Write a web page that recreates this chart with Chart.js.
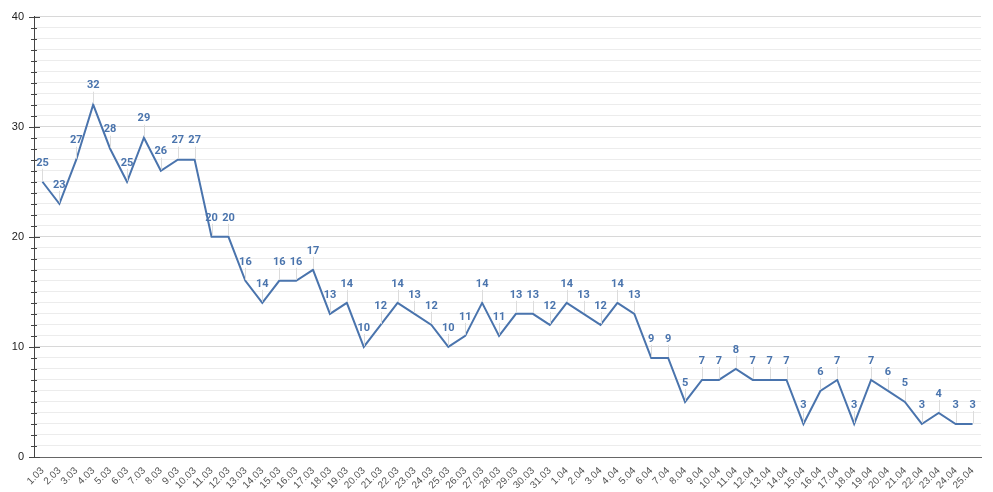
<!DOCTYPE html>
<html>
<head>
<meta charset="utf-8">
<script src="https://cdn.jsdelivr.net/npm/chart.js@4/dist/chart.umd.min.js"></script>
<style>
  html, body { margin: 0; padding: 0; background: #fff; }
  #wrap { position: relative; width: 993px; height: 492px; }
</style>
</head>
<body>
<div id="wrap"><canvas id="chart"></canvas></div>
<script>
const days = [
  '1.03','2.03','3.03','4.03','5.03','6.03','7.03','8.03','9.03','10.03',
  '11.03','12.03','13.03','14.03','15.03','16.03','17.03','18.03','19.03','20.03',
  '21.03','22.03','23.03','24.03','25.03','26.03','27.03','28.03','29.03','30.03',
  '31.03','1.04','2.04','3.04','4.04','5.04','6.04','7.04','8.04','9.04',
  '10.04','11.04','12.04','13.04','14.04','15.04','16.04','17.04','18.04','19.04',
  '20.04','21.04','22.04','23.04','24.04','25.04'
];
const counts = [
  25, 23, 27, 32, 28, 25, 29, 26, 27, 27,
  20, 20, 16, 14, 16, 16, 17, 13, 14, 10,
  12, 14, 13, 12, 10, 11, 14, 11, 13, 13,
  12, 14, 13, 12, 14, 13, 9, 9, 5, 7,
  7, 8, 7, 7, 7, 3, 6, 7, 3, 7,
  6, 5, 3, 4, 3, 3
];

const lineColor = '#4a74ad';

// leader lines + value labels above each point
const valueLabels = {
  id: 'valueLabels',
  afterDatasetsDraw(chart) {
    const ctx = chart.ctx;
    const meta = chart.getDatasetMeta(0);
    ctx.save();
    meta.data.forEach((pt, i) => {
      ctx.strokeStyle = '#dcdcdc';
      ctx.lineWidth = 1;
      ctx.beginPath();
      ctx.moveTo(Math.round(pt.x) + 0.5, pt.y - 1);
      ctx.lineTo(Math.round(pt.x) + 0.5, pt.y - 13);
      ctx.stroke();
      ctx.fillStyle = lineColor;
      ctx.font = 'bold 11px Roboto, Arial, sans-serif';
      ctx.textAlign = 'center';
      ctx.textBaseline = 'middle';
      ctx.fillText(String(counts[i]), pt.x, pt.y - 19);
    });
    ctx.restore();
  }
};

// y ticks crossing the axis line
const axisTicks = {
  id: 'axisTicks',
  afterDraw(chart) {
    const ctx = chart.ctx;
    const y = chart.scales.y;
    const x0 = chart.chartArea.left;
    ctx.save();
    ctx.strokeStyle = '#444';
    ctx.lineWidth = 1;
    y.ticks.forEach(t => {
      const py = Math.round(y.getPixelForValue(t.value)) + 0.5;
      const major = t.value % 10 === 0;
      ctx.beginPath();
      ctx.moveTo(x0 - (major ? 5 : 3), py);
      ctx.lineTo(x0 + (major ? 6 : 3), py);
      ctx.stroke();
    });
    ctx.restore();
  }
};

new Chart(document.getElementById('chart'), {
  type: 'line',
  data: {
    labels: days,
    datasets: [{
      data: counts,
      borderColor: lineColor,
      borderWidth: 2,
      pointRadius: 0,
      tension: 0,
      fill: false
    }]
  },
  options: {
    responsive: true,
    maintainAspectRatio: false,
    animation: false,
    layout: { padding: { top: 16, right: 12, left: 0, bottom: 0 } },
    plugins: {
      legend: { display: false },
      tooltip: { enabled: false }
    },
    scales: {
      x: {
        offset: true,
        grid: { display: false, drawTicks: false },
        border: { display: true, color: '#666', width: 1 },
        ticks: {
          autoSkip: false,
          maxRotation: 45,
          minRotation: 45,
          padding: 8,
          color: '#555',
          font: { family: 'Arial, "Liberation Sans", sans-serif', size: 10 }
        },
        afterFit: s => { s.height = 35; }
      },
      y: {
        min: 0,
        max: 40,
        grid: {
          drawTicks: false,
          color: c => (c.tick && c.tick.value % 10 === 0) ? '#d8d8d8' : '#ececec'
        },
        border: { display: true, color: '#444', width: 1 },
        ticks: {
          stepSize: 1,
          autoSkip: false,
          padding: 10,
          color: '#222',
          font: { family: 'Arial, "Liberation Sans", sans-serif', size: 11 },
          callback: v => (v % 10 === 0 ? v : '')
        },
        afterFit: s => { s.width = 34; }
      }
    }
  },
  plugins: [valueLabels, axisTicks]
});
</script>
</body>
</html>
